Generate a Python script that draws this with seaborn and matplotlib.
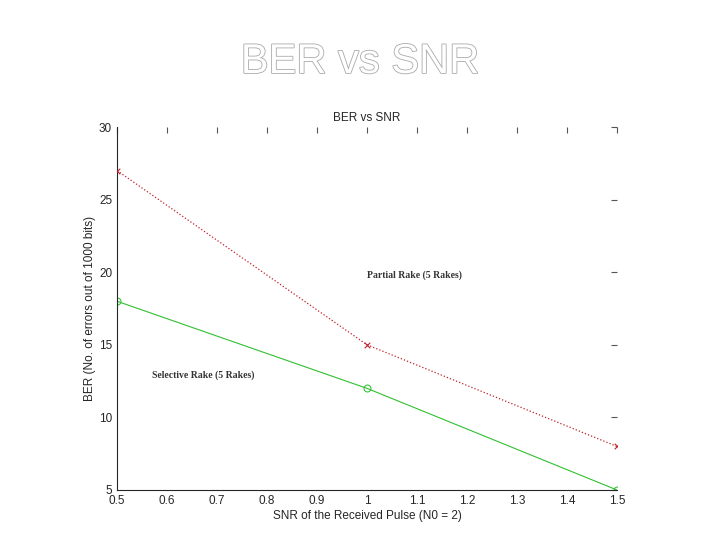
import matplotlib
matplotlib.use("Agg")
import matplotlib.pyplot as plt
import matplotlib.patheffects as pe
import seaborn as sns
import pandas as pd

snr = [0.5, 1.0, 1.5]
partial = [27, 15, 8]
selective = [18, 12, 5]
xticks = [0.5, 0.6, 0.7, 0.8, 0.9, 1, 1.1, 1.2, 1.3, 1.4, 1.5]
yticks = [5, 10, 15, 20, 25, 30]

df = pd.DataFrame({"snr": snr * 2, "ber": partial + selective,
                   "series": ["Partial"] * 3 + ["Selective"] * 3})

sns.set_style("white")
plt.rcParams["font.family"] = "Liberation Sans"
fig = plt.figure(figsize=(7.2, 5.4), dpi=100)
ax = fig.add_axes([117/720, 1-490/540, 500/720, 363/540])
sns.lineplot(data=df[df.series == "Partial"], x="snr", y="ber", ax=ax,
             color="#c0202a", linestyle=":", lw=0.9)
ax.scatter(snr, partial, marker="x", s=16, color="#c0202a", linewidths=0.8, zorder=3)
sns.lineplot(data=df[df.series == "Selective"], x="snr", y="ber", ax=ax,
             color="#30c030", linestyle="-", lw=0.8, marker="o", ms=5,
             mfc="none", mec="#30c030")
ax.set_xlim(0.5, 1.5)
ax.set_ylim(5, 30)
ax.set_xticks(xticks)
ax.set_xticklabels([str(t) for t in xticks])
ax.set_yticks(yticks)
ax.tick_params(direction="in", top=True, right=True, labelsize=8.5, length=4,
               color="#555555")
for s in ["top", "right"]:
    ax.spines[s].set_visible(False)
ax.set_xlabel("SNR of the Received Pulse (N0 = 2)", fontsize=8.5, labelpad=2)
ax.set_ylabel("BER (No. of errors out of 1000 bits)", fontsize=8.5, labelpad=2)
ax.set_title("BER vs SNR", fontsize=8.5, pad=4)
ax.text(1.0, 19.6, "Partial Rake (5 Rakes)", fontsize=7, family="Liberation Serif",
        fontweight="bold", color="#333333")
ax.text(0.57, 12.7, "Selective Rake (5 Rakes)", fontsize=7, family="Liberation Serif",
        fontweight="bold", color="#333333")
t = fig.text(0.5, 1-62/540, "BER vs SNR", ha="center", va="center",
             fontsize=30, color="white", family="Liberation Sans")
t.set_path_effects([pe.withStroke(linewidth=1.2, foreground="#aaaaaa")])
fig.savefig("out.png", dpi=100)
